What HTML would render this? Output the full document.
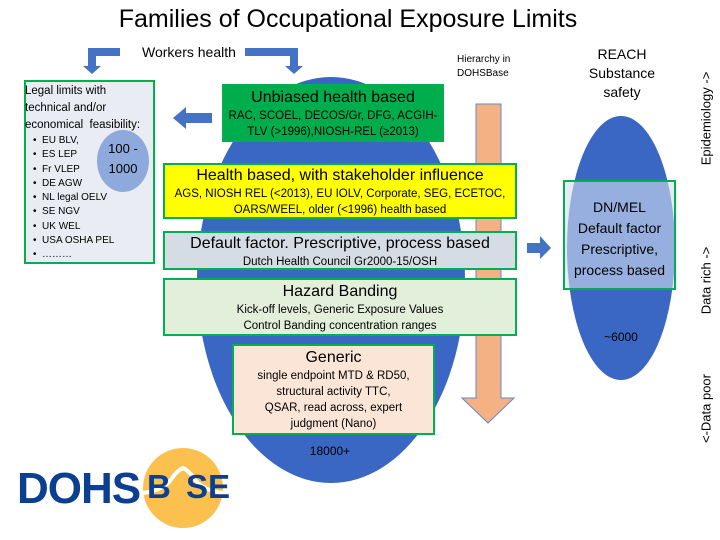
<!DOCTYPE html>
<html><head><meta charset="utf-8"><style>
body{margin:0;width:720px;height:540px;background:#fff;position:relative;overflow:hidden;font-family:"Liberation Sans",sans-serif;color:#000}
.a{position:absolute}
.box{position:absolute;border:2px solid #00b050;box-sizing:border-box;text-align:center}
.t{font-size:16px;line-height:20px}
.s{font-size:11.5px;line-height:16px}
.v{position:absolute;transform:rotate(-90deg);transform-origin:center;white-space:nowrap;font-size:13px}
</style></head><body>
<div class="a" style="left:0;width:696px;top:5px;text-align:center;font-size:25px">Families of Occupational Exposure Limits</div>
<div class="a" style="left:142px;top:44px;font-size:14px">Workers health</div>
<div class="a" style="left:457px;top:53px;font-size:10px;line-height:14px">Hierarchy in<br>DOHSBase</div>
<div class="a" style="left:566px;top:45px;width:112px;text-align:center;font-size:14px;line-height:19px">REACH<br>Substance<br>safety</div>
<svg class="a" style="left:0;top:0" width="720" height="540">
<ellipse cx="331" cy="280" rx="134" ry="203" fill="#3a66c4"/>
<ellipse cx="621" cy="248" rx="54" ry="132" fill="#3a66c4"/>
<path d="M476 104 H501 V398 H514 L488 423 L462 398 H476 Z" fill="#f4b183" stroke="#6b87c4" stroke-width="1"/>
<path d="M120 48 H88 V66 H83 L92 74 L101 66 H96 V56 H120Z" fill="#4472c4"/>
<path d="M245 48 H298 V66 H303 L294 74 L285 66 H290 V56 H245Z" fill="#4472c4"/>
<path d="M212 113 H186 V107 L173 118 L186 129 V123 H212Z" fill="#4472c4"/>
<path d="M527 243 H540 V236 L551 248 L540 259 V253 H527Z" fill="#4472c4"/>
<circle cx="183" cy="488" r="40" fill="#fcc04e"/>
<path d="M143 493 Q165 490 172 478 Q178 470 183 468 Q188 470 194 478 Q201 490 223 493" stroke="#fff" stroke-width="4" fill="none"/>
</svg>
<div class="box" style="left:24px;top:80px;width:131px;height:184px;background:#e9ecf2;text-align:left;padding:1px 0 0 0">
<div style="font-size:11.5px;line-height:17px;margin-left:-1px">Legal limits with technical and/or economical&nbsp; feasibility:</div>
<div style="font-size:10px;line-height:14.3px;margin-left:7px">• &nbsp;EU BLV,<br>• &nbsp;ES LEP<br>• &nbsp;Fr VLEP<br>• &nbsp;DE AGW<br>• &nbsp;NL legal OELV<br>• &nbsp;SE NGV<br>• &nbsp;UK WEL<br>• &nbsp;USA OSHA PEL<br>• &nbsp;………</div>
</div>
<div class="a" style="left:97px;top:130px;width:52px;height:62px;border-radius:50%;background:#8ea9db;text-align:center;font-size:13px;line-height:20px;padding-top:9px;box-sizing:border-box">100 -<br>1000</div>
<div class="box" style="left:222px;top:84px;width:222px;height:58px;background:#00ad4c;padding-top:2px"><div class="t">Unbiased health based</div><div class="s">RAC, SCOEL, DECOS/Gr, DFG, ACGIH-TLV (&gt;1996),NIOSH-REL (≥2013)</div></div>
<div class="box" style="left:163px;top:163px;width:354px;height:56px;background:#ffff00;padding-top:1px"><div class="t">Health based, with stakeholder influence</div><div class="s">AGS, NIOSH REL (&lt;2013), EU IOLV, Corporate, SEG, ECETOC,<br>OARS/WEEL, older (&lt;1996) health based</div></div>
<div class="box" style="left:163px;top:231px;width:354px;height:39px;background:#d6dce4;padding-top:1px"><div class="t">Default factor. Prescriptive, process based</div><div class="s">Dutch Health Council Gr2000-15/OSH</div></div>
<div class="box" style="left:163px;top:278px;width:354px;height:58px;background:#e2efda;padding-top:2px"><div class="t">Hazard Banding</div><div class="s">Kick-off levels, Generic Exposure Values<br>Control Banding concentration ranges</div></div>
<div class="box" style="left:232px;top:344px;width:203px;height:91px;background:#fbe5d6;padding-top:2px"><div class="t">Generic</div><div class="s">single endpoint MTD &amp; RD50,<br>structural activity TTC,<br>QSAR, read across, expert<br>judgment (Nano)</div></div>
<div class="a" style="left:290px;top:444px;width:80px;text-align:center;font-size:12px">18000+</div>
<div class="box" style="left:563px;top:180px;width:113px;height:110px;background:rgba(214,224,240,0.6);padding-top:15px;font-size:14px;line-height:21px">DN/MEL<br>Default factor<br>Prescriptive,<br>process based</div>
<div class="a" style="left:581px;top:330px;width:80px;text-align:center;font-size:12px">~6000</div>
<div class="a" style="left:17px;top:464px;font-size:44px;font-weight:bold;color:#0c3f8f;letter-spacing:-1px">DOHS</div>
<div class="a" style="left:147px;top:468px;font-size:33px;font-weight:bold;color:#0c3f8f">B</div>
<div class="a" style="left:186px;top:468px;font-size:33px;font-weight:bold;color:#0c3f8f">SE</div>
<div class="v" style="left:656px;top:111px;width:100px;text-align:center">Epidemiology -&gt;</div>
<div class="v" style="left:656px;top:273px;width:100px;text-align:center">Data rich -&gt;</div>
<div class="v" style="left:656px;top:401px;width:100px;text-align:center">&lt;-Data poor</div>
</body></html>
